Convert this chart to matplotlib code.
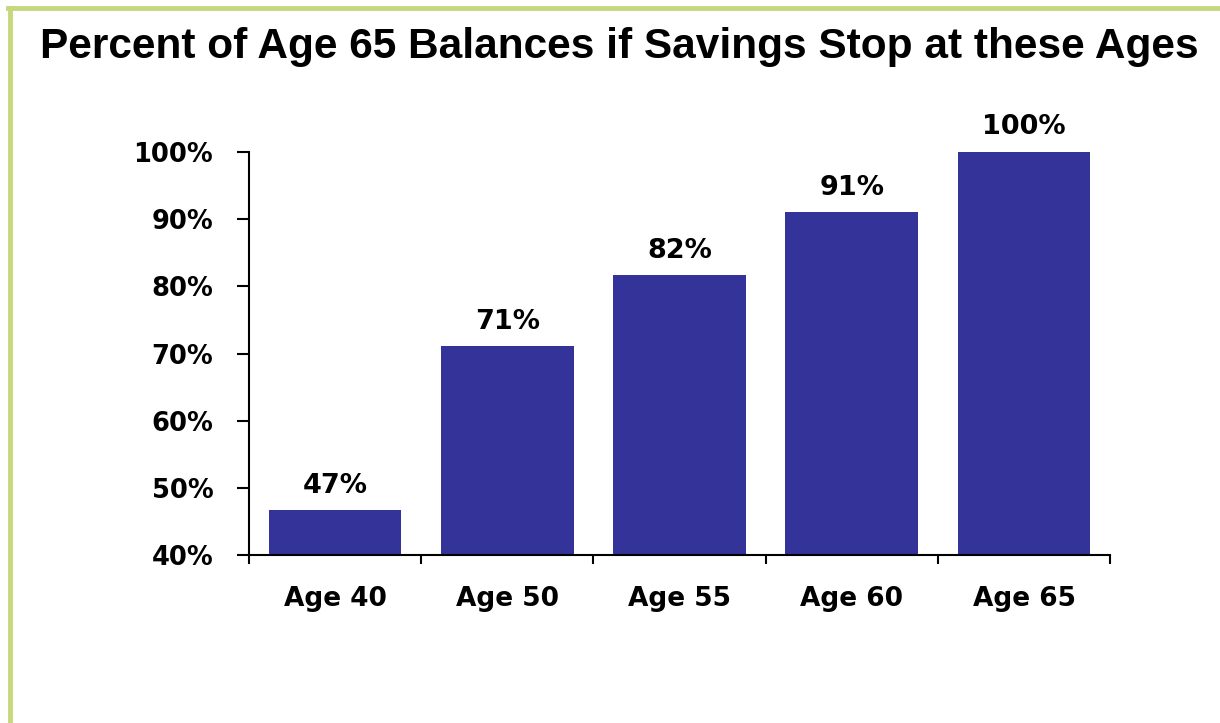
import matplotlib.pyplot as plt
from matplotlib.lines import Line2D

categories = ['Age 40', 'Age 50', 'Age 55', 'Age 60', 'Age 65']
values = [46.7, 71.1, 81.7, 91.0, 100.0]
labels = ['47%', '71%', '82%', '91%', '100%']
yticks = [40, 50, 60, 70, 80, 90, 100]

# tick text in the picture is wide, DejaVu Sans bold is the closest
wide = ['DejaVu Sans']
plt.rcParams['font.family'] = ['Liberation Sans', 'DejaVu Sans']
plt.rcParams['font.weight'] = 'bold'

fig = plt.figure(figsize=(12.2, 7.23), dpi=100)
ax = fig.add_axes([0.204, 0.232, 0.706, 0.558])

x = list(range(len(categories)))
ax.bar(x, values, width=0.77, color='#333399')
ax.set_xlim(-0.5, len(categories) - 0.5)
ax.set_ylim(40, 100)

for xi, v, lab in zip(x, values, labels):
    ax.annotate(lab, (xi, v), xytext=(0, 12.5), textcoords='offset points',
                ha='center', va='baseline', fontsize=19.5, fontweight='bold', family=wide)

ax.set_yticks(yticks)
ax.set_yticklabels([f'{t}%' for t in yticks], fontsize=18.5, fontweight='bold', family=wide)
ax.set_xticks([i - 0.5 for i in range(len(categories) + 1)])
ax.set_xticklabels([])
ax.set_xticks(x, minor=True)
ax.set_xticklabels(categories, minor=True, fontsize=19, fontweight='bold', family=wide)
ax.tick_params(axis='x', which='minor', length=0, pad=22)
ax.tick_params(axis='x', which='major', direction='out', length=6.5, width=1.5)
ax.tick_params(axis='y', direction='out', length=8.6, width=1.5, pad=17)

for s in ['top', 'right']:
    ax.spines[s].set_visible(False)
ax.spines['left'].set_linewidth(1.5)
ax.spines['bottom'].set_linewidth(1.5)

fig.text(0.508, 1 - 58 / 723, 'Percent of Age 65 Balances if Savings Stop at these Ages',
         ha='center', va='baseline', fontsize=30.5, fontweight='bold')

green = '#c5d87c'
fig.add_artist(Line2D([10 / 1220, 10 / 1220], [0, 1 - 8 / 723], color=green, lw=3.5, transform=fig.transFigure))
fig.add_artist(Line2D([8 / 1220, 1], [1 - 8 / 723, 1 - 8 / 723], color=green, lw=3.5, transform=fig.transFigure))

plt.savefig('out.png', dpi=100)
